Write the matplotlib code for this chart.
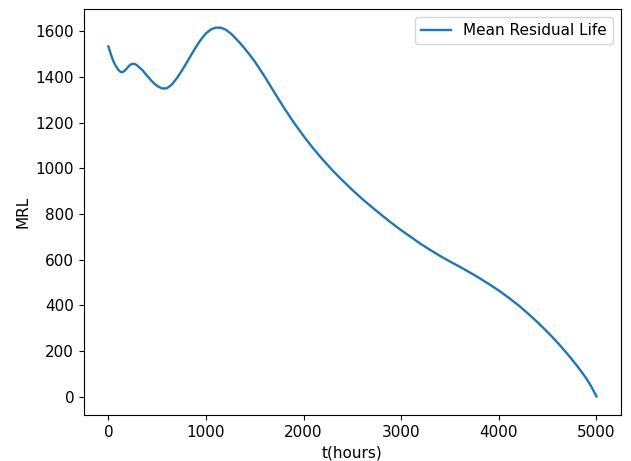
import matplotlib
matplotlib.use("Agg")
import matplotlib.pyplot as plt

t_hours = [0, 25, 50, 75, 100, 120, 140, 160, 180, 200, 220, 240, 260, 280, 300, 350,
           400, 450, 500, 550, 600, 650, 700, 750, 800, 850, 900, 950, 1000, 1050,
           1100, 1150, 1200, 1250, 1300, 1350, 1400, 1450, 1500, 1600, 1700, 1800,
           1900, 2000, 2100, 2200, 2300, 2400, 2500, 2600, 2700, 2800, 2900, 3000,
           3100, 3200, 3300, 3400, 3500, 3600, 3700, 3800, 3900, 4000, 4100, 4200,
           4300, 4400, 4500, 4600, 4700, 4750, 4800, 4850, 4900, 4950, 5000]
mrl = [1533, 1500, 1470, 1448, 1432, 1423, 1420, 1424, 1432, 1442, 1451, 1456, 1457,
       1454, 1448, 1429, 1403, 1379, 1360, 1349, 1350, 1366, 1393, 1425, 1460, 1497,
       1532, 1564, 1590, 1607, 1615, 1615, 1607, 1591, 1570, 1547, 1522, 1495, 1467,
       1402, 1332, 1264, 1200, 1141, 1086, 1036, 989, 946, 905, 866, 830, 795, 761,
       729, 699, 669, 642, 616, 592, 569, 545, 520, 493, 465, 434, 401, 364, 325,
       283, 238, 189, 163, 136, 108, 78, 43, 2]

plt.rcParams["font.size"] = 11
fig = plt.figure(figsize=(6.31, 4.61), dpi=100)
ax = fig.add_axes([0.133, 0.100, 0.851, 0.880])
ax.plot(t_hours, mrl, color="#1f77b4", lw=1.7, label="Mean Residual Life")
ax.set_xlabel("t(hours)")
ax.set_ylabel("MRL")
ax.legend(loc="upper right")
fig.savefig("out.png", dpi=100)
